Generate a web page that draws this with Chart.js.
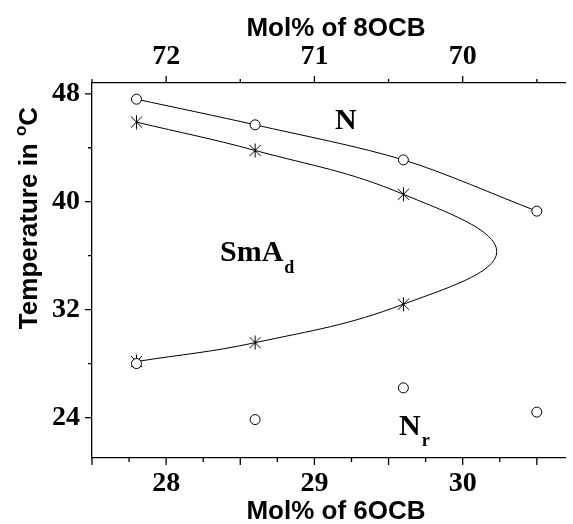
<!DOCTYPE html>
<html>
<head>
<meta charset="utf-8">
<script src="https://cdn.jsdelivr.net/npm/chart.js@4.4.0/dist/chart.umd.min.js"></script>
<style>
  html, body { margin: 0; padding: 0; background: #fff; }
  #wrap { width: 573px; height: 524px; }
</style>
</head>
<body>
<div id="wrap"><canvas id="chart"></canvas></div>
<script>
// composition, mol% of 6OCB (the top axis is 100 - this, mol% of 8OCB)
const mol6 = [27.8, 28.6, 29.6, 30.5];
// open circles on the N boundary
const tN = [47.6, 45.7, 43.1, 39.3];
// stars on the SmAd boundary, upper and lower branch (first three compositions)
const tSmaHigh = [45.9, 43.8, 40.55];
const tSmaLow = [28.15, 29.55, 32.4];
// nose of the re-entrant SmAd curve
const nose = { x: 30.23, y: 36.3 };
// open circles in the Nr region
const tNr = [28.0, 23.85, 26.2, 24.4];

const serif = '"Liberation Serif", "Times New Roman", serif';
const sans = '"Liberation Sans", Arial, sans-serif';

// asterisk marker: vertical bar plus an X
function makeStar(r) {
  const c = document.createElement('canvas');
  c.width = c.height = 2 * r + 1;
  const g = c.getContext('2d');
  const m = r + 0.5;
  const d = r * 0.8;
  g.strokeStyle = '#000';
  g.lineWidth = 1;
  g.beginPath();
  g.moveTo(m, m - r); g.lineTo(m, m + r);
  g.moveTo(m - d, m - d); g.lineTo(m + d, m + d);
  g.moveTo(m + d, m - d); g.lineTo(m - d, m + d);
  g.stroke();
  return c;
}
const starImg = makeStar(7);

const pts = (xs, ys) => ys.map((y, i) => ({ x: xs[i], y }));

// curve goes down the upper branch, round the nose and back along the lower one
const smaCurve = pts(mol6, tSmaHigh).concat([nose], pts(mol6, tSmaLow).reverse());

const decor = {
  id: 'decor',
  afterDraw(chart) {
    const { ctx, chartArea: a, scales } = chart;
    const x = scales.x, x2 = scales.x2, y = scales.y;
    ctx.save();
    ctx.strokeStyle = '#000';
    ctx.lineWidth = 1.3;
    ctx.beginPath();
    // bottom ticks, every 0.25, long every 0.5
    for (let v = 27.5; v <= x.max + 1e-6; v += 0.25) {
      const px = x.getPixelForValue(v);
      const len = Math.abs(v * 2 - Math.round(v * 2)) < 1e-6 ? 7 : 4;
      ctx.moveTo(px, a.bottom); ctx.lineTo(px, a.bottom + len);
    }
    // top ticks, every 0.5, long at whole numbers
    for (let v = 72.5; v >= x2.min - 1e-6; v -= 0.5) {
      const px = x2.getPixelForValue(v);
      const len = Math.abs(v - Math.round(v)) < 1e-6 ? 7 : 4;
      ctx.moveTo(px, a.top); ctx.lineTo(px, a.top - len);
    }
    // left ticks, every 4, long every 8
    for (let v = 24; v <= 48; v += 4) {
      const py = y.getPixelForValue(v);
      const len = v % 8 === 0 ? 7 : 4;
      ctx.moveTo(a.left, py); ctx.lineTo(a.left - len, py);
    }
    ctx.stroke();

    ctx.fillStyle = '#000';
    ctx.textAlign = 'center';
    ctx.textBaseline = 'middle';
    ctx.font = 'bold 26px ' + sans;
    ctx.fillText('Mol% of 6OCB', 336, 512);
    ctx.fillText('Mol% of 8OCB', 336, 29);

    // y title with superscript o
    ctx.save();
    ctx.translate(28, 218);
    ctx.rotate(-Math.PI / 2);
    ctx.textAlign = 'left';
    ctx.textBaseline = 'alphabetic';
    ctx.font = 'bold 26px ' + sans;
    const s1 = 'Temperature in ';
    const w1 = ctx.measureText(s1).width;
    const w3 = ctx.measureText('C').width;
    ctx.font = 'bold 17px ' + sans;
    const w2 = ctx.measureText('o').width;
    let sx = -(w1 + w2 + w3) / 2;
    ctx.font = 'bold 26px ' + sans;
    ctx.fillText(s1, sx, 9);
    ctx.font = 'bold 17px ' + sans;
    ctx.fillText('o', sx + w1, -2);
    ctx.font = 'bold 26px ' + sans;
    ctx.fillText('C', sx + w1 + w2, 9);
    ctx.restore();

    // phase labels
    ctx.textAlign = 'left';
    ctx.textBaseline = 'alphabetic';
    ctx.font = 'bold 30px ' + serif;
    ctx.fillText('N', 335, 129);
    ctx.fillText('SmA', 220, 261);
    const wS = ctx.measureText('SmA').width;
    ctx.fillText('N', 399, 435);
    const wN = ctx.measureText('N').width;
    ctx.font = 'bold 18px ' + serif;
    ctx.fillText('d', 220 + wS + 1, 273);
    ctx.fillText('r', 399 + wN + 1, 446);
    ctx.restore();
  }
};

const tickFont = { family: serif, weight: 'bold', size: 28 };

new Chart(document.getElementById('chart'), {
  type: 'scatter',
  data: {
    datasets: [
      {
        label: 'Nr',
        data: pts(mol6, tNr),
        pointStyle: 'circle',
        pointRadius: 5,
        pointBackgroundColor: '#fff',
        pointBorderColor: '#000',
        pointBorderWidth: 1
      },
      {
        label: 'N',
        data: pts(mol6, tN),
        showLine: true,
        tension: 0.3,
        borderColor: '#000',
        borderWidth: 1,
        pointStyle: 'circle',
        pointRadius: 5,
        pointBackgroundColor: '#fff',
        pointBorderColor: '#000',
        pointBorderWidth: 1
      },
      {
        label: 'SmAd points',
        data: pts(mol6, tSmaHigh).concat(pts(mol6, tSmaLow)),
        pointStyle: starImg,
        pointRadius: 7
      },
      {
        label: 'SmAd curve',
        data: smaCurve,
        showLine: true,
        tension: 0.4,
        borderColor: '#000',
        borderWidth: 1,
        pointRadius: 0
      }
    ]
  },
  options: {
    responsive: true,
    maintainAspectRatio: false,
    animation: false,
    layout: { padding: 0 },
    plugins: {
      legend: { display: false },
      tooltip: { enabled: false }
    },
    scales: {
      x: {
        type: 'linear',
        position: 'bottom',
        min: 27.5,
        max: 30.69,
        afterFit(s) { s.height = 66; },
        grid: { display: false, drawTicks: false },
        border: { display: true, color: '#000', width: 1.3 },
        ticks: { stepSize: 1, includeBounds: false, font: tickFont, color: '#000', padding: 9, maxRotation: 0 }
      },
      x2: {
        type: 'linear',
        position: 'top',
        reverse: true,
        min: 100 - 30.69,
        max: 72.5,
        afterFit(s) { s.height = 83; },
        grid: { display: false, drawTicks: false },
        border: { display: true, color: '#000', width: 1.3 },
        ticks: { stepSize: 1, includeBounds: false, font: tickFont, color: '#000', padding: 9, maxRotation: 0 }
      },
      y: {
        type: 'linear',
        position: 'left',
        min: 21,
        max: 48.8,
        afterFit(s) { s.width = 92; },
        grid: { display: false, drawTicks: false },
        border: { display: true, color: '#000', width: 1.3 },
        ticks: { stepSize: 8, includeBounds: false, font: tickFont, color: '#000', padding: 12 }
      }
    }
  },
  plugins: [decor]
});
</script>
</body>
</html>
